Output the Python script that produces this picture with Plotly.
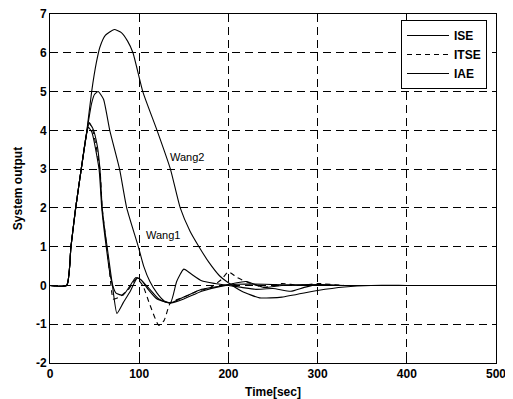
import plotly.graph_objects as go

# Wang2 (not in legend)
wang2_t = [0, 18.7, 23.5, 28.8, 35, 41, 46.7, 52, 56, 62, 72, 80, 87, 93, 104, 120, 135, 146, 157, 167, 178, 190, 198, 215, 235, 260, 300, 330, 360, 400, 450, 500]
wang2_y = [0, 0, 1.0, 2.0, 3.0, 3.93, 5.0, 5.75, 6.15, 6.45, 6.6, 6.52, 6.3, 6.0, 5.0, 4.0, 3.0, 2.0, 1.4, 1.0, 0.6, 0.25, 0.1, -0.15, -0.32, -0.3, -0.13, -0.04, 0, 0, 0, 0]

# Wang1 (not in legend)
wang1_t = [0, 18.7, 23.5, 28.8, 35, 41, 46.7, 50, 54, 60, 67, 78, 86, 99, 105, 112, 120, 128, 136, 150, 170, 190, 210, 240, 280, 350, 420, 500]
wang1_y = [0, 0, 1.0, 2.0, 3.0, 3.93, 4.7, 4.93, 5.0, 4.8, 4.0, 3.0, 2.0, 1.0, 0.5, 0.1, -0.2, -0.4, -0.45, -0.35, -0.15, -0.03, 0.03, 0.03, 0.0, 0, 0, 0]

# ISE
ise_t = [0, 18.7, 23.5, 28.8, 35, 41, 44, 48, 53, 56, 58.5, 61, 64, 67, 70, 75, 82, 90, 98, 104, 112, 122, 135, 142, 150, 158, 170, 185, 200, 215, 230, 250, 270, 285, 300, 330, 400, 450, 500]
ise_y = [0, 0, 1.0, 2.0, 3.0, 3.93, 4.18, 4.05, 3.6, 3.0, 2.0, 1.5, 1.0, 0.5, 0.0, -0.72, -0.45, -0.15, 0.2, 0.1, -0.1, -0.35, -0.45, 0.1, 0.42, 0.3, 0.12, 0.05, 0.0, -0.05, -0.1, -0.08, -0.15, -0.05, 0.02, 0.0, 0, 0, 0]

# ITSE
itse_t = [0, 18.7, 23.5, 28.8, 35, 41, 44, 48, 56, 58.5, 62, 67, 71, 78, 88, 97, 104, 112, 122, 128, 135, 150, 165, 180, 192, 200, 210, 225, 240, 260, 280, 300, 330, 400, 450, 500]
itse_y = [0, 0, 1.0, 2.0, 3.0, 3.93, 4.2, 4.0, 3.0, 2.0, 1.3, 0.3, -0.35, -0.3, -0.1, 0.18, 0.0, -0.5, -1.03, -0.9, -0.45, -0.3, -0.15, -0.05, 0.15, 0.35, 0.2, 0.05, -0.05, 0.05, 0.0, 0.05, 0.0, 0, 0, 0]

# IAE
iae_t = [0, 18.7, 23.5, 28.8, 35, 41, 43, 47, 55, 58, 63, 68, 74, 82, 90, 96, 102, 110, 120, 135, 150, 170, 190, 205, 220, 240, 260, 290, 320, 400, 450, 500]
iae_y = [0, 0, 1.0, 2.0, 3.0, 3.9, 4.08, 3.95, 3.0, 2.0, 1.0, 0.2, -0.2, -0.25, 0.0, 0.2, 0.15, -0.1, -0.35, -0.45, -0.3, -0.1, -0.02, 0.05, 0.1, -0.05, 0.0, 0.02, 0.0, 0, 0, 0]

x_ticks = [0, 100, 200, 300, 400, 500]
y_ticks = [-2, -1, 0, 1, 2, 3, 4, 5, 6, 7]

FONT = "Liberation Sans"
line = dict(color="black", width=1.1, shape="spline", smoothing=0.5, simplify=False)
fig = go.Figure()
fig.add_trace(go.Scatter(x=ise_t, y=ise_y, mode="lines", name="ISE", line=line))
fig.add_trace(go.Scatter(x=itse_t, y=itse_y, mode="lines", name="ITSE",
                         line=dict(color="black", width=1.1, dash="5px,4px", shape="spline", smoothing=0.5, simplify=False)))
fig.add_trace(go.Scatter(x=iae_t, y=iae_y, mode="lines", name="IAE", line=line))
fig.add_trace(go.Scatter(x=wang1_t, y=wang1_y, mode="lines", name="Wang1", line=line, showlegend=False))
fig.add_trace(go.Scatter(x=wang2_t, y=wang2_y, mode="lines", name="Wang2", line=line, showlegend=False))

fig.add_annotation(x=153.6, y=3.32, text="Wang2", showarrow=False, font=dict(size=11, color="black", family=FONT))
fig.add_annotation(x=127, y=1.29, text="Wang1", showarrow=False, font=dict(size=11, color="black", family=FONT))

axis_common = dict(
    showline=True, linecolor="black", linewidth=1, mirror="ticks",
    showgrid=True, gridcolor="black", gridwidth=1, griddash="8px,5px",
    zeroline=False, ticks="inside", ticklen=4, tickcolor="black",
    automargin=False, ticklabeloverflow="allow",
    tickfont=dict(family=FONT, size=12, color="black", weight="bold"),
)

fig.update_xaxes(range=[0, 500], tickvals=x_ticks, ticktext=[str(v) for v in x_ticks],
                 title=dict(text="Time[sec]", standoff=7, font=dict(family=FONT, size=12, color="black", weight="bold")),
                 **axis_common)
fig.update_yaxes(range=[-2, 7], tickvals=y_ticks, ticktext=[str(v) for v in y_ticks],
                 title=dict(text="System output", standoff=10, font=dict(family=FONT, size=12, color="black", weight="bold")),
                 **axis_common)

fig.update_layout(
    width=513, height=399,
    margin=dict(l=42, r=25, t=6, b=44),
    plot_bgcolor="white", paper_bgcolor="white",
    showlegend=True,
    legend=dict(x=(487 - 50) / 446, y=(362 - 19) / 349, xanchor="right", yanchor="top",
                bgcolor="white", bordercolor="black", borderwidth=1,
                font=dict(family=FONT, size=12, color="black", weight="bold"),
                tracegroupgap=0, itemwidth=42),
)

fig.write_html("out.html")
